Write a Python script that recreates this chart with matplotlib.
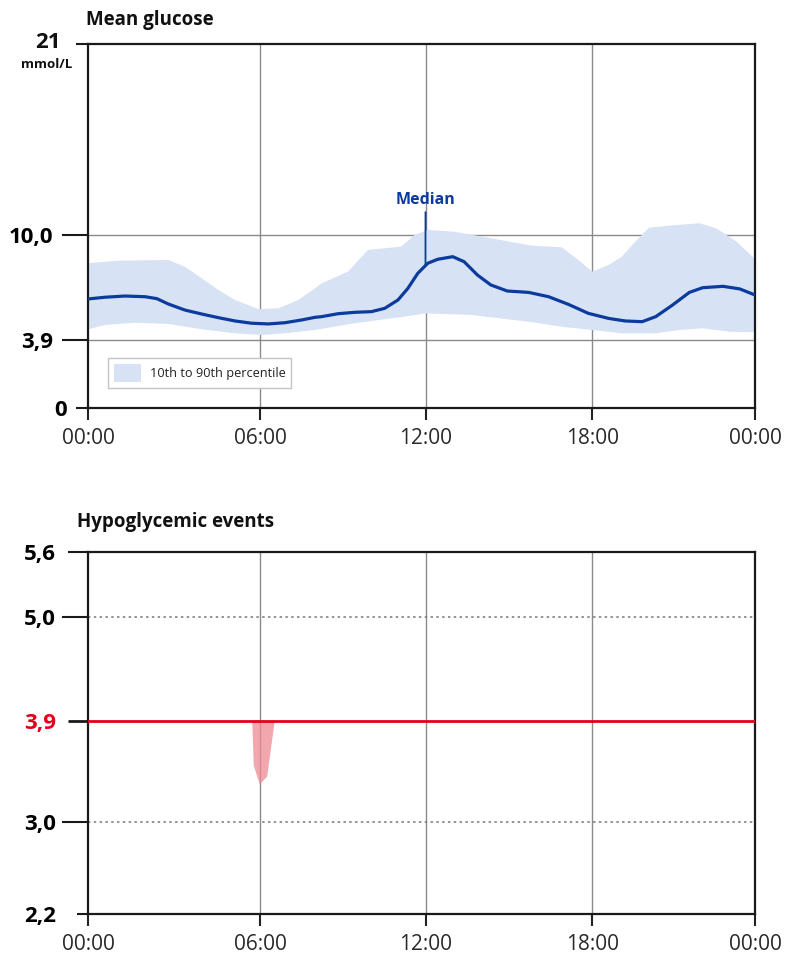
import numpy as np
import matplotlib
matplotlib.use("Agg")
import matplotlib.pyplot as plt
from matplotlib.ticker import FixedLocator, FixedFormatter
from matplotlib.patches import Patch

plt.rcParams['font.family'] = ['Open Sans', 'DejaVu Sans']

# ---------------- data ----------------
x_tick_hours = [0, 6, 12, 18, 24]
x_tick_labels = ["00:00", "06:00", "12:00", "18:00", "00:00"]

median_hours = [0.0, 0.59, 1.29, 1.99, 2.40, 2.80, 3.38, 3.97, 4.55, 5.13, 5.71,
                6.30, 6.90, 7.51, 7.99, 8.23, 8.83, 9.43, 10.04, 10.52, 11.0,
                11.36, 11.72, 12.08, 12.44, 12.98, 13.39, 13.87, 14.35, 14.94,
                15.71, 16.43, 17.14, 17.86, 18.60, 19.22, 19.84, 20.34, 20.96,
                21.58, 22.07, 22.82, 23.44, 24.0]
median_vals = [6.29, 6.39, 6.46, 6.42, 6.31, 6.0, 5.65, 5.42, 5.21, 5.02, 4.89,
               4.85, 4.92, 5.08, 5.23, 5.27, 5.44, 5.52, 5.56, 5.75, 6.23,
               6.9, 7.77, 8.35, 8.58, 8.73, 8.44, 7.67, 7.1, 6.75,
               6.67, 6.42, 5.98, 5.46, 5.17, 5.02, 4.98, 5.27, 5.94,
               6.67, 6.94, 7.02, 6.87, 6.52]

p90_hours = [0.0, 1.06, 2.80, 3.38, 3.97, 4.55, 5.13, 5.94, 6.66, 7.38, 7.99,
             8.23, 9.19, 9.91, 11.12, 11.60, 12.08, 13.04, 14.23, 15.8, 16.9,
             17.5, 18.0, 18.6, 19.09, 19.59, 20.09, 20.83, 21.95, 22.57, 23.32,
             24.0]
p90_vals = [8.35, 8.5, 8.54, 8.15, 7.48, 6.81, 6.23, 5.71, 5.75, 6.23, 6.9,
            7.19, 7.87, 9.12, 9.31, 9.98, 10.27, 10.17, 9.83, 9.37, 9.27,
            8.54, 7.87, 8.25, 8.73, 9.6, 10.4, 10.52, 10.66, 10.37, 9.6,
            8.6]

p10_hours = [0.0, 0.59, 1.64, 2.80, 3.97, 5.13, 6.06, 6.90, 7.99, 9.43, 11.24,
             12.0, 13.63, 15.8, 16.9, 18.0, 19.09, 20.34, 21.21, 22.07, 23.07,
             24.0]
p10_vals = [4.54, 4.79, 4.92, 4.85, 4.54, 4.31, 4.21, 4.31, 4.5, 4.89, 5.27,
            5.46, 5.37, 4.96, 4.69, 4.5, 4.31, 4.31, 4.5, 4.6, 4.4,
            4.37]

top_major_ticks = [10.0, 3.9]
top_major_labels = ["10,0", "3,9"]
top_minor_ticks = [0, 21]
top_minor_labels = ["0", ""]

event_hours = [5.71, 5.76, 5.97, 6.24, 6.51]
event_low = [3.9, 3.51, 3.34, 3.41, 3.9]
hypo_threshold = 3.9

bot_major_ticks = [5.0, 3.0]
bot_major_labels = ["5,0", "3,0"]
bot_minor_ticks = [5.6, 3.9, 2.2]
bot_minor_labels = ["5,6", "3,9", "2,2"]

# ---------------- helpers: piecewise-linear scales ----------------
def make_scale(src, dst):
    src = np.asarray(src, float)
    dst = np.asarray(dst, float)

    def mapper(a, b):
        def f(v):
            v = np.asarray(v, float)
            out = np.interp(v, a, b)
            lo = v < a[0]
            hi = v > a[-1]
            s0 = (b[1] - b[0]) / (a[1] - a[0])
            s1 = (b[-1] - b[-2]) / (a[-1] - a[-2])
            out = np.where(lo, b[0] + (v - a[0]) * s0, out)
            out = np.where(hi, b[-1] + (v - a[-1]) * s1, out)
            return out
        return f
    return mapper(src, dst), mapper(dst, src)

x_fwd, x_inv = make_scale(x_tick_hours, [0, 0.258, 0.506, 0.756, 1.0])
y_fwd, y_inv = make_scale([2.2, 3.0, 3.9, 5.0, 5.6], [0, 0.254, 0.533, 0.82, 1.0])

# ---------------- styling ----------------
BAND = '#d8e2f5'
MEDIAN = '#0b3b9c'
RED = '#e2001a'
GRID = '#8a8a8a'
PT = 72 / 100.0  # points per pixel at dpi 100

fig = plt.figure(figsize=(7.92, 9.56), dpi=100)

ax1 = fig.add_axes([88/792, 1-408/956, 667/792, 364/956])
ax2 = fig.add_axes([88/792, 1-914/956, 667/792, 362/956])

for ax in (ax1, ax2):
    ax.set_xscale('function', functions=(x_fwd, x_inv))
    ax.set_xlim(0, 24)
    ax.set_xticks(x_tick_hours)
    ax.set_xticklabels(x_tick_labels)
    ax.tick_params(axis='x', length=12*PT, width=1.5, pad=8*PT,
                   labelsize=15, labelcolor='#2a2a2a', color='#222222')
    for s in ax.spines.values():
        s.set_linewidth(1.6)
        s.set_color('#1a1a1a')
    for h in x_tick_hours[1:-1]:
        ax.axvline(h, color=GRID, lw=1.0, zorder=1)

# ---------------- top chart ----------------
ax1.set_ylim(0, 21)
ax1.yaxis.set_major_locator(FixedLocator(top_major_ticks))
ax1.yaxis.set_major_formatter(FixedFormatter(top_major_labels))
ax1.yaxis.set_minor_locator(FixedLocator(top_minor_ticks))
ax1.yaxis.set_minor_formatter(FixedFormatter(top_minor_labels))
ax1.tick_params(axis='y', which='major', length=26*PT, width=1.5, pad=9*PT,
                labelsize=16, color='#1a1a1a')
ax1.tick_params(axis='y', which='minor', length=12*PT, width=1.5, pad=9*PT,
                labelsize=16, color='#1a1a1a')
for lab in ax1.get_yticklabels(which='both'):
    lab.set_fontweight('bold')
for v in top_major_ticks:
    ax1.axhline(v, color=GRID, lw=1.0, zorder=1)

band_x = np.concatenate([p90_hours, p10_hours[::-1]])
band_y = np.concatenate([p90_vals, p10_vals[::-1]])
ax1.fill(band_x, band_y, color=BAND, lw=0, zorder=2)
ax1.plot(median_hours, median_vals, color=MEDIAN, lw=2.3, zorder=3,
         solid_capstyle='butt', solid_joinstyle='round')

med12 = float(np.interp(12, median_hours, median_vals))
ax1.annotate('Median', xy=(12, med12), xytext=(12, 12.0), ha='center', va='center',
             fontsize=11.5, fontweight='bold', color=MEDIAN,
             arrowprops=dict(arrowstyle='-', color=MEDIAN, lw=1.3,
                             shrinkA=1, shrinkB=0), zorder=4)

leg = ax1.legend(handles=[Patch(facecolor=BAND, edgecolor='none',
                                label='10th to 90th percentile')],
                 loc='lower left', bbox_to_anchor=(20/667, 20/364),
                 borderaxespad=0, fontsize=9.2, handlelength=2.15,
                 handleheight=1.85, handletextpad=0.65, borderpad=0.45,
                 fancybox=False, framealpha=1, edgecolor='#c4c4c4')
leg.get_frame().set_linewidth(1.0)
leg.set_zorder(5)
for t in leg.get_texts():
    t.set_color('#222222')

fig.text(86/792, 1-20/956, 'Mean glucose', fontsize=13.5, fontweight='bold',
         va='center', ha='left', color='#111111')
fig.text(47.5/792, 1-42/956, '21', fontsize=16, fontweight='bold',
         va='center', ha='center', color='#111111')
fig.text(46.5/792, 1-65/956, 'mmol/L', fontsize=9.5, fontweight='bold',
         va='center', ha='center', color='#111111')

# ---------------- bottom chart ----------------
ax2.set_yscale('function', functions=(y_fwd, y_inv))
ax2.set_ylim(2.2, 5.6)
ax2.yaxis.set_major_locator(FixedLocator(bot_major_ticks))
ax2.yaxis.set_major_formatter(FixedFormatter(bot_major_labels))
ax2.yaxis.set_minor_locator(FixedLocator(bot_minor_ticks))
ax2.yaxis.set_minor_formatter(FixedFormatter(bot_minor_labels))
ax2.tick_params(axis='y', which='major', length=26*PT, width=1.5, pad=6*PT,
                labelsize=16, color='#1a1a1a')
ax2.tick_params(axis='y', which='minor', length=20*PT, width=1.5, pad=12*PT,
                labelsize=16, color='#1a1a1a')
for lab in ax2.get_yticklabels(which='both'):
    lab.set_fontweight('bold')

for v in bot_major_ticks:
    ax2.axhline(v, color='#777777', lw=1.1, ls=(0, (1.6, 2.2)), zorder=1)

ax2.fill_between(event_hours, event_low, hypo_threshold, color='#ee8a94',
                 alpha=0.75, lw=0, zorder=2)
ax2.axhline(hypo_threshold, color=RED, lw=2.0, zorder=3)

fig.text(77/792, 1-522/956, 'Hypoglycemic events', fontsize=13.5, fontweight='bold',
         va='center', ha='left', color='#111111')

fig.canvas.draw()
minor_ticks = ax2.yaxis.get_minor_ticks()
for tk, val in zip(minor_ticks, bot_minor_ticks):
    if val == hypo_threshold:
        tk.tick1line.set_color(RED)
        tk.tick1line.set_markeredgewidth(2.0)
        tk.label1.set_color(RED)
    if val == 2.2:
        tk.tick1line.set_markersize(11*PT)

fig.savefig('out.png', dpi=100)
